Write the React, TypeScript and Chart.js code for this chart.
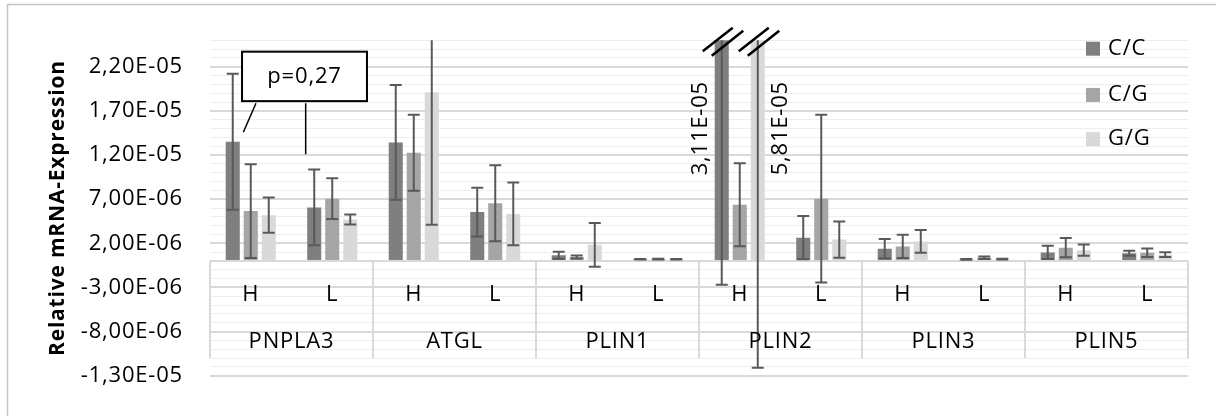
import React, { useEffect, useRef } from 'react';
import { Chart, registerables } from 'chart.js';
Chart.register(...registerables);

const groups = ['PNPLA3', 'ATGL', 'PLIN1', 'PLIN2', 'PLIN3', 'PLIN5'];
const subLabels = ['H', 'L'];
const seriesNames = ['C/C', 'C/G', 'G/G'];
const seriesColors = ['#7f7f7f', '#a5a5a5', '#d9d9d9'];

const ccValues = [1.35e-5, 6.07e-6, 1.343e-5, 5.54e-6, 6.5e-7, 2e-7, 3.11e-5, 2.64e-6, 1.4e-6, 1.8e-7, 9.7e-7, 8.7e-7];
const ccErrors = [7.7e-6, 4.3e-6, 6.5e-6, 2.76e-6, 4e-7, 3e-8, 3.38e-5, 2.45e-6, 1.1e-6, 4e-8, 7.5e-7, 2.9e-7];
const cgValues = [5.65e-6, 7.06e-6, 1.226e-5, 6.53e-6, 4.5e-7, 2.2e-7, 6.36e-6, 7.06e-6, 1.65e-6, 3.7e-7, 1.51e-6, 9.3e-7];
const cgErrors = [5.3e-6, 2.3e-6, 4.3e-6, 4.3e-6, 1.8e-7, 4e-8, 4.7e-6, 9.5e-6, 1.32e-6, 1.5e-7, 1.08e-6, 4.8e-7];
const ggValues = [5.19e-6, 4.69e-6, 1.91e-5, 5.33e-6, 1.83e-6, 2e-7, 5.81e-5, 2.43e-6, 2.22e-6, 2e-7, 1.22e-6, 7.2e-7];
const ggErrors = [2.0e-6, 5.7e-7, 1.5e-5, 3.55e-6, 2.47e-6, 3e-8, 7.02e-5, 2.05e-6, 1.3e-6, 4e-8, 6.4e-7, 2.8e-7];

const yMin = -1.3e-5;
const yMax = 2.5e-5;
const yMinorStep = 1e-6;
const yTickLabels = ['-1,30E-05', '-8,00E-06', '-3,00E-06', '2,00E-06', '7,00E-06', '1,20E-05', '1,70E-05', '2,20E-05'];
const axisTitle = 'Relative mRNA-Expression';
const annotationText = 'p=0,27';

const seriesValues = [ccValues, cgValues, ggValues];
const seriesErrors = [ccErrors, cgErrors, ggErrors];
const categories = groups.flatMap((g) => subLabels.map((s) => g + ' ' + s));

const FAMILY = "'Open Sans', sans-serif";
const FS = 22;
const TITLE_FS = 21;
const LETTER_SPACING = '0.8px';

function fmtE(v: number): string {
  const [m, e] = v.toExponential(2).split('e');
  const n = parseInt(e, 10);
  return m.replace('.', ',') + 'E' + (n < 0 ? '-' : '+') + String(Math.abs(n)).padStart(2, '0');
}

const minorCount = Math.round((yMax - yMin) / yMinorStep);
const isMajor = (i: number) => (i % 5 === 0 && i < minorCount) || i === Math.round(-yMin / yMinorStep);

const overlay = {
  id: 'overlay',
  beforeDraw(chart: any) {
    const { ctx } = chart;
    ctx.save();
    ctx.fillStyle = '#ffffff';
    ctx.fillRect(0, 0, chart.width, chart.height);
    ctx.strokeStyle = '#c4c4c4';
    ctx.lineWidth = 1.5;
    ctx.beginPath();
    ctx.moveTo(7.5, chart.height);
    ctx.lineTo(7.5, 4.5);
    ctx.lineTo(chart.width, 4.5);
    ctx.stroke();
    ctx.restore();
    ctx.letterSpacing = LETTER_SPACING;
  },
  afterDatasetsDraw(chart: any) {
    const { ctx, chartArea: a, scales } = chart;
    const x = scales.x;
    const y = scales.y;
    const n = categories.length;
    const catW = (a.right - a.left) / n;
    const xAt = (idx: number) => x.getPixelForValue(0) + idx * catW;
    ctx.letterSpacing = LETTER_SPACING;

    // error bars
    ctx.save();
    ctx.beginPath();
    ctx.rect(a.left, a.top, a.right - a.left, a.bottom - a.top);
    ctx.clip();
    ctx.strokeStyle = '#595959';
    ctx.lineWidth = 2;
    chart.data.datasets.forEach((ds: any, di: number) => {
      const meta = chart.getDatasetMeta(di);
      meta.data.forEach((el: any, i: number) => {
        const v = ds.data[i];
        const e = seriesErrors[di][i];
        const yt = y.getPixelForValue(v + e);
        const yb = y.getPixelForValue(v - e);
        ctx.beginPath();
        ctx.moveTo(el.x, yt);
        ctx.lineTo(el.x, yb);
        if (yt >= a.top) {
          ctx.moveTo(el.x - 6, yt);
          ctx.lineTo(el.x + 6, yt);
        }
        ctx.moveTo(el.x - 6, yb);
        ctx.lineTo(el.x + 6, yb);
        ctx.stroke();
      });
    });
    ctx.restore();

    // break marks + value labels for bars beyond the axis max
    ctx.save();
    chart.data.datasets.forEach((ds: any, di: number) => {
      const meta = chart.getDatasetMeta(di);
      meta.data.forEach((el: any, i: number) => {
        const v = ds.data[i];
        if (v <= yMax) return;
        ctx.strokeStyle = '#000';
        ctx.lineWidth = 2.5;
        ctx.beginPath();
        ctx.moveTo(el.x - 19, a.top + 11);
        ctx.lineTo(el.x + 11, a.top - 12.5);
        ctx.moveTo(el.x - 10, a.top + 15.5);
        ctx.lineTo(el.x + 21.5, a.top - 9.5);
        ctx.stroke();
        const lx = di === 0 ? el.x - 21 : el.x + 23;
        ctx.save();
        ctx.translate(lx, a.top + 88);
        ctx.rotate(-Math.PI / 2);
        ctx.fillStyle = '#000';
        ctx.font = FS + 'px ' + FAMILY;
        ctx.textAlign = 'center';
        ctx.textBaseline = 'middle';
        ctx.fillText(fmtE(v), 0, 0);
        ctx.restore();
      });
    });
    ctx.restore();

    // multi-level category axis
    ctx.save();
    const y0 = y.getPixelForValue(0);
    const yEnd = y.getPixelForValue(-1.1e-5);
    ctx.strokeStyle = '#d9d9d9';
    ctx.lineWidth = 2;
    for (let g = 0; g <= groups.length; g++) {
      const gx = Math.round(a.left + (g * (a.right - a.left)) / groups.length);
      ctx.beginPath();
      ctx.moveTo(gx, y0);
      ctx.lineTo(gx, yEnd);
      ctx.stroke();
    }
    ctx.fillStyle = '#000';
    ctx.font = FS + 'px ' + FAMILY;
    ctx.textAlign = 'center';
    ctx.textBaseline = 'middle';
    const ySub = y.getPixelForValue(-3.8e-6);
    const yGrp = y.getPixelForValue(-9.1e-6);
    categories.forEach((_, i) => {
      ctx.fillText(subLabels[i % subLabels.length], x.getPixelForValue(i), ySub);
    });
    groups.forEach((g, gi) => {
      const cx = (x.getPixelForValue(gi * 2) + x.getPixelForValue(gi * 2 + 1)) / 2;
      ctx.fillText(g, cx, yGrp);
    });
    ctx.restore();

    // annotation
    ctx.save();
    const bx0 = xAt(-0.107), bx1 = xAt(1.426);
    const by0 = y.getPixelForValue(2.37e-5), by1 = y.getPixelForValue(1.81e-5);
    ctx.strokeStyle = '#000';
    ctx.lineWidth = 1.5;
    ctx.beginPath();
    ctx.moveTo(xAt(0.064), y.getPixelForValue(1.786e-5));
    ctx.lineTo(xAt(-0.091), y.getPixelForValue(1.457e-5));
    ctx.moveTo(xAt(0.674), y.getPixelForValue(1.786e-5));
    ctx.lineTo(xAt(0.674), y.getPixelForValue(1.209e-5));
    ctx.stroke();
    ctx.fillStyle = '#fff';
    ctx.fillRect(bx0, by0, bx1 - bx0, by1 - by0);
    ctx.lineWidth = 2;
    ctx.strokeRect(bx0, by0, bx1 - bx0, by1 - by0);
    ctx.fillStyle = '#000';
    ctx.font = FS + 'px ' + FAMILY;
    ctx.textAlign = 'center';
    ctx.textBaseline = 'middle';
    ctx.fillText(annotationText, (bx0 + bx1) / 2, (by0 + by1) / 2);
    ctx.restore();

    // legend
    ctx.save();
    ctx.font = FS + 'px ' + FAMILY;
    ctx.textAlign = 'left';
    ctx.textBaseline = 'middle';
    const legendY = [2.404e-5, 1.88e-5, 1.38e-5];
    seriesNames.forEach((name, i) => {
      const cy = y.getPixelForValue(legendY[i]);
      ctx.fillStyle = seriesColors[i];
      ctx.fillRect(a.right - 102, cy - 7, 14, 14);
      ctx.fillStyle = '#000';
      ctx.fillText(name, a.right - 80, cy);
    });
    ctx.restore();
  },
};

export default function App() {
  const ref = useRef<HTMLCanvasElement>(null);
  useEffect(() => {
    Chart.defaults.font.family = FAMILY;
    const minorTicks: number[] = [];
    for (let i = 0; i <= minorCount; i++) minorTicks.push(yMin + i * yMinorStep);
    const chart = new Chart(ref.current as HTMLCanvasElement, {
      type: 'bar',
      data: {
        labels: categories,
        datasets: seriesNames.map((name, i) => ({
          label: name,
          data: seriesValues[i],
          backgroundColor: seriesColors[i],
          borderWidth: 0,
          categoryPercentage: 0.663,
          barPercentage: 0.78,
        })),
      },
      options: {
        animation: false,
        responsive: false,
        devicePixelRatio: 1,
        layout: { padding: { left: 0, top: 33.3, right: 28, bottom: 25.3 } },
        plugins: { legend: { display: false }, tooltip: { enabled: false } },
        scales: {
          x: { display: false },
          y: {
            min: yMin,
            max: yMax,
            afterBuildTicks: (s: any) => {
              s.ticks = minorTicks.map((v) => ({ value: v }));
            },
            afterFit: (s: any) => {
              s.width = 210;
            },
            ticks: {
              autoSkip: false,
              padding: 27,
              color: '#000',
              font: { family: FAMILY, size: FS },
              callback: (_v: any, i: number) => (i % 5 === 0 && i < minorCount ? yTickLabels[i / 5] : ''),
            },
            grid: {
              drawTicks: false,
              color: (c: any) => (isMajor(c.index) ? '#d9d9d9' : '#eeeeee'),
              lineWidth: (c: any) => (isMajor(c.index) ? 2 : 1),
            },
            border: { display: false },
            title: {
              display: true,
              text: axisTitle,
              color: '#000',
              font: { family: FAMILY, size: TITLE_FS, weight: 'bold' },
              padding: { top: 58 - (TITLE_FS * 1.2) / 2, bottom: 0 },
            },
          },
        },
      },
      plugins: [overlay],
    } as any);
    return () => chart.destroy();
  }, []);
  return (
    <div style={{ position: 'fixed', left: 0, top: 0, width: 1216, height: 416, background: '#fff' }}>
      <canvas ref={ref} width={1216} height={416} style={{ display: 'block', width: 1216, height: 416 }} />
    </div>
  );
}
